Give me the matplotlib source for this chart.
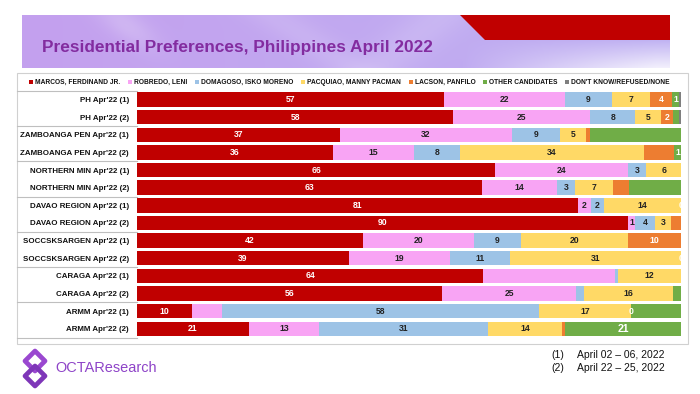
import matplotlib
matplotlib.use('Agg')
import matplotlib.pyplot as plt
import numpy as np
from matplotlib import font_manager
from matplotlib.patches import Polygon, Rectangle
import matplotlib.transforms as mtransforms

# ---------------- data ----------------
categories = ["PH Apr'22 (1)", "PH Apr'22 (2)",
              "ZAMBOANGA PEN Apr'22 (1)", "ZAMBOANGA PEN Apr'22 (2)",
              "NORTHERN MIN Apr'22 (1)", "NORTHERN MIN Apr'22 (2)",
              "DAVAO REGION Apr'22 (1)", "DAVAO REGION Apr'22 (2)",
              "SOCCSKSARGEN Apr'22 (1)", "SOCCSKSARGEN Apr'22 (2)",
              "CARAGA Apr'22 (1)", "CARAGA Apr'22 (2)",
              "ARMM Apr'22 (1)", "ARMM Apr'22 (2)"]
series_names = ["MARCOS, FERDINAND JR.", "ROBREDO, LENI", "DOMAGOSO, ISKO MORENO",
                "PACQUIAO, MANNY PACMAN", "LACSON, PANFILO", "OTHER CANDIDATES",
                "DON'T KNOW/REFUSED/NONE"]
marcos   = [56.6, 58.1, 37.3, 36.1, 65.9, 63.4, 81.0, 90.3, 41.6, 39.0, 63.7, 56.1, 10.2, 20.6]
robredo  = [22.2, 25.2, 31.6, 14.9, 24.4, 13.8, 2.4, 1.2, 20.4, 18.6, 24.3, 24.6, 5.4, 13.0]
domagoso = [8.7, 8.3, 8.9, 8.4, 3.3, 3.4, 2.3, 3.7, 8.7, 11.0, 0.5, 1.5, 58.3, 31.0]
pacquiao = [6.9, 4.8, 4.8, 33.8, 6.4, 6.9, 14.2, 3.0, 19.7, 31.4, 11.6, 16.4, 17.0, 13.7]
lacson   = [4.2, 2.2, 0.7, 5.7, 0.0, 3.1, 0.0, 1.8, 9.8, 0.0, 0.0, 0.0, 0.0, 0.6]
others   = [1.3, 1.1, 16.7, 1.2, 0.0, 9.5, 0.0, 0.0, 0.0, 0.0, 0.0, 1.4, 9.1, 21.3]
dontknow = [0.3, 0.3, 0.0, 0.0, 0.0, 0.0, 0.0, 0.0, 0.0, 0.0, 0.0, 0.0, 0.0, 0.0]
series_values = [marcos, robredo, domagoso, pacquiao, lacson, others, dontknow]
# segments whose data label is not shown (row, series)
unlabeled = {(1, 5), (2, 4), (2, 5), (3, 4), (5, 4), (5, 5), (7, 4), (10, 1), (10, 2),
             (11, 2), (11, 5), (12, 1), (12, 5), (13, 4)}
zero_labeled = {(6, 4), (9, 4), (12, 4)}
footnotes = [("(1)", "April 02 \u2013 06, 2022"), ("(2)", "April 22 \u2013 25, 2022")]
title = "Presidential Preferences, Philippines April 2022"

# ---------------- style ----------------
colors = ["#C00000", "#F8A4F4", "#9DC3E6", "#FFD966", "#ED7D31", "#70AD47", "#7F7F7F"]
label_colors = ["white", "#222222", "#222222", "#222222", "white", "white", "white"]

names = {f.name for f in font_manager.fontManager.ttflist}
sans = "Liberation Sans" if "Liberation Sans" in names else "DejaVu Sans"
narrow = "Liberation Sans Narrow" if "Liberation Sans Narrow" in names else sans
plt.rcParams['font.family'] = [sans, 'DejaVu Sans']

W, H = 700, 394
fig = plt.figure(figsize=(W / 100, H / 100), dpi=100)
fig.patch.set_facecolor("white")
renderer = fig.canvas.get_renderer()


def fit(txt, target_px):
    w = txt.get_window_extent(renderer).width
    txt.set_fontsize(txt.get_fontsize() * target_px / w)


# background / decoration axes in pixel coordinates
bg = fig.add_axes([0, 0, 1, 1], zorder=0)
bg.set_xlim(0, W)
bg.set_ylim(H, 0)
bg.axis("off")

# banner gradient
bx0, bx1, by0, by1 = 22, 670, 15, 68
gw, gh = bx1 - bx0, by1 - by0
gx = np.linspace(0, 1, gw)[None, :]
gy = np.linspace(0, 1, gh)[:, None]
left_c = np.array([196, 160, 238]) / 255
right_c = np.array([190, 176, 242]) / 255
img = left_c[None, None, :] * (1 - gx[..., None]) + right_c[None, None, :] * gx[..., None]
px = gx * gw
py = gy * gh
streak = 0.20 * np.exp(-((px - 0.9 * py - 95) / 22) ** 2) * np.exp(-((py - 10) / 25) ** 2)
streak2 = 0.14 * np.exp(-((px + 1.2 * py - 420) / 35) ** 2)
streak3 = 0.12 * np.exp(-((px - 1.5 * py - 250) / 30) ** 2)
lite = np.clip(streak + streak2 + streak3, 0, 1)
wfade = np.clip((gx - 0.68) / 0.3, 0, 1) * np.clip((gy - 0.45) / 0.55, 0, 1) * 0.8
tot = np.clip(lite + wfade, 0, 0.95)
img = img * (1 - tot[..., None]) + tot[..., None]
bg.imshow(img, extent=(bx0, bx1, by1, by0), aspect="auto", interpolation="bilinear", zorder=1)
bg.add_patch(Polygon([(460, 15), (670, 15), (670, 40), (485, 40)], closed=True,
                     facecolor="#C00000", edgecolor="none", zorder=2))
t = bg.text(42, 51.5, title, color="#832CA0", fontsize=12.5, fontweight="bold",
            ha="left", va="baseline", zorder=3)
fit(t, 390)

# chart frame
bg.add_patch(Rectangle((17, 73), 671, 271, facecolor="white", edgecolor="#D0D0D0",
                       lw=0.8, zorder=1))

# logo
for cy, col in [(361, "#9A48D0"), (376, "#7E36B8")]:
    bg.add_patch(Polygon([(35, cy - 10), (45, cy), (35, cy + 10), (25, cy)], closed=True,
                         facecolor="none", edgecolor=col, lw=3.4, joinstyle="round", zorder=3))
t = bg.text(55, 368, "OCTAResearch", color="#8E44C8", fontsize=10.5, ha="left",
            va="center", zorder=3)
fit(t, 102)
for i, (a, b) in enumerate(footnotes):
    yy = 355 + 13 * i
    bg.text(551, yy, a, fontsize=7.5, family=narrow, color="#111111", ha="left", va="center")
    bg.text(577, yy, b, fontsize=7.5, family=narrow, color="#111111", ha="left", va="center")

# ---------------- main chart ----------------
ax_left, ax_right = 137, 681
ax_top, ax_bot = 90.7, 337.6
ax = fig.add_axes([ax_left / W, 1 - ax_bot / H, (ax_right - ax_left) / W, (ax_bot - ax_top) / H],
                  zorder=2)
ax.patch.set_alpha(0)
n = len(categories)
y = np.arange(n)
vals = np.array(series_values, dtype=float)
totals = vals.sum(axis=0)
pct = vals / totals * 100
lefts = np.zeros(n)
handles = []
for s in range(len(series_names)):
    h = ax.barh(y, pct[s], left=lefts, height=0.82, color=colors[s], edgecolor="none",
                label=series_names[s])
    handles.append(h)
    for r in range(n):
        v = vals[s][r]
        show = (v > 0 and (r, s) not in unlabeled and s != 6) or (r, s) in zero_labeled
        if show:
            fs = 7.6 if (r == 13 and s == 5) else 6.2
            ax.text(lefts[r] + pct[s][r] / 2, r, f"{v:.0f}", ha="center", va="center",
                    color=label_colors[s], fontsize=fs, fontweight="bold")
    lefts = lefts + pct[s]

ax.set_xlim(0, 100)
ax.set_ylim(n - 0.5, -0.5)
ax.set_xticks([])
ax.set_yticks(y)
ax.set_yticklabels(categories, fontsize=5.8, fontweight="bold", color="#111111")
ax.tick_params(axis="y", length=0, pad=5.8)
for sp in ax.spines.values():
    sp.set_visible(False)
fig.canvas.draw()
ref = [tl for tl in ax.get_yticklabels() if tl.get_text().startswith("ZAMBOANGA")][0]
wref = ref.get_window_extent(renderer).width
newfs = 5.8 * 108 / wref
for tl in ax.get_yticklabels():
    tl.set_fontsize(newfs)

# group separators in label column
trans = mtransforms.blended_transform_factory(fig.transFigure, ax.transData)
for g in np.arange(-0.5, n, 2):
    ax.plot([17 / W, ax_left / W], [g, g], transform=trans, color="#BFBFBF", lw=0.8,
            clip_on=False, zorder=1)

# legend
leg_fs = 4.8
cs = 2.0
leg = None
for _ in range(4):
    if leg is not None:
        leg.remove()
    leg = fig.legend(handles=handles, loc="center", bbox_to_anchor=(349.5 / W, 1 - 82.7 / H),
                     ncol=7, frameon=False, handlelength=0.6, handleheight=0.6,
                     handletextpad=0.3, columnspacing=cs, borderpad=0,
                     prop={"size": leg_fs, "weight": "bold", "family": sans})
    for txt in leg.get_texts():
        txt.set_color("#111111")
    fig.canvas.draw()
    wl = leg.get_window_extent(renderer).width
    cs = cs + (641 - wl) / 6 / (leg_fs * 100 / 72)

fig.savefig("out.png", dpi=100, facecolor="white")
